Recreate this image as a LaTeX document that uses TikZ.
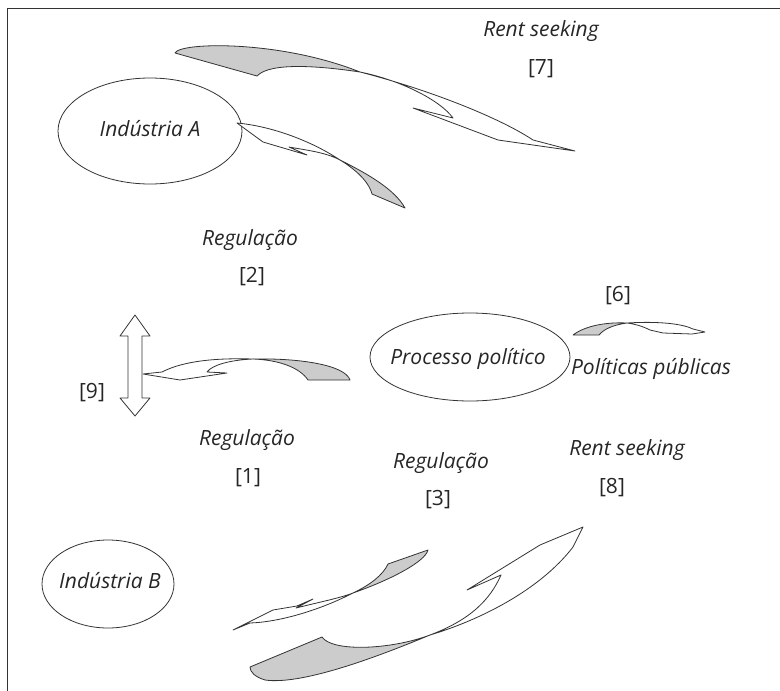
\documentclass[tikz,border=0pt]{standalone}
\usepackage{fontspec}
\setmainfont{Open Sans}
\begin{document}
\begin{tikzpicture}[x=1pt,y=-1pt,
  lbl/.style={font=\fontsize{21}{24}\selectfont\itshape, inner sep=0pt, text=black!85},
  num/.style={font=\fontsize{21}{24}\selectfont, inner sep=0pt, text=black!85},
  outl/.style={draw=black!80, line width=0.8pt},
  ribbon/.style={draw=black!80, line width=0.8pt, line join=round, fill=white},
  under/.style={draw=black!80, line width=0.8pt, line join=round, fill=black!20},
]
\useasboundingbox (0,0) rectangle (780,691);
% frame
\draw[outl] (7,691) -- (7,8) -- (780,8);

% ellipses
\draw[outl] (150,131) ellipse [x radius=92, y radius=53];
\node[lbl] (indA) at (150,129) {Indústria A};
\draw[outl] (470,357) ellipse [x radius=100, y radius=44];
\node[lbl] (proc) at (468,359) {Processo político};
\draw[outl] (108,584) ellipse [x radius=66, y radius=44];
\node[lbl] (indB) at (110,581) {Indústria B};

% labels
\node[lbl] (rs7) at (541,31) {Rent seeking};
\node[num] (n7) at (541,69) {[7]};
\node[lbl] (reg2) at (250,240) {Regulação};
\node[num] (n2) at (252,277) {[2]};
\node[num] (n6) at (618,296) {[6]};
\node[lbl] (pp) at (651,369) {Políticas públicas};
\node[num] (n9) at (92,393) {[9]};
\node[lbl] (reg1) at (247,440) {Regulação};
\node[num] (n1) at (248,478) {[1]};
\node[lbl] (reg3) at (441,463) {Regulação};
\node[num] (n3) at (438,500) {[3]};
\node[lbl] (rs8) at (627,450) {Rent seeking};
\node[num] (n8) at (612,488) {[8]};

% arrow 7
\coordinate (x7) at (360,72);
\draw[under] (175,53) .. controls (180,42) and (280,40) .. (x7)
  .. controls (320,66) and (270,62) .. (257,76) -- cycle;
\draw[ribbon] (x7) .. controls (430,90) and (500,118) .. (533,140) -- (575,151) -- (498,140)
  -- (413,108) -- (453,118) .. controls (440,100) and (400,80) .. (x7);

% arrow 2
\coordinate (x2) at (340,160);
\draw[ribbon] (237,123) .. controls (270,126) and (310,140) .. (x2)
  .. controls (325,152) and (305,150) .. (289,147) -- (307,155) -- (263,142) -- cycle;
\draw[under] (x2) .. controls (370,175) and (395,190) .. (405,208) -- (372,194)
  .. controls (370,185) and (360,172) .. (x2);

% double arrow 9
\draw[ribbon] (135,315) -- (150,336) -- (142,336) -- (142,398) -- (150,398) -- (135,416)
  -- (120,398) -- (128,398) -- (128,336) -- (120,336) -- cycle;

% arrow 1
\coordinate (x1) at (253,359);
\draw[ribbon] (143,374) -- (162,372) .. controls (185,360) and (220,358) .. (x1)
  .. controls (230,360) and (212,365) .. (207,372) -- (227,373) -- (180,380) -- cycle;
\draw[under] (x1) .. controls (300,358) and (345,365) .. (350,380) -- (308,380)
  .. controls (300,368) and (280,360) .. (x1);

% arrow 6
\coordinate (x6) at (627,323);
\draw[under] (573,335) .. controls (585,326) and (605,322) .. (x6)
  .. controls (613,325) and (604,329) .. (599,335) -- cycle;
\draw[ribbon] (x6) .. controls (660,321) and (683,324) .. (693,329) -- (705,332) -- (692,334)
  -- (663,333) -- (650,330) .. controls (642,326) and (635,324) .. (x6);

% arrow 3
\coordinate (x3) at (353,593);
\draw[ribbon] (233,630) -- (273,610) -- (297,606) -- (313,599) -- (296,608)
  .. controls (320,602) and (340,598) .. (x3) .. controls (320,610) and (280,622) .. (250,623) -- cycle;
\draw[under] (x3) .. controls (370,585) and (383,575) .. (388,564) -- (428,550)
  .. controls (425,562) and (390,580) .. (x3);

% arrow 8
\coordinate (x8) at (430,635);
\draw[under] (250,667) -- (322,637) .. controls (332,652) and (390,650) .. (x8)
  .. controls (370,660) and (300,685) .. (265,680) .. controls (255,677) and (250,672) .. cycle;
\draw[ribbon] (x8) .. controls (470,620) and (490,600) .. (501,575) -- (467,590) -- (540,545)
  -- (583,527) -- (573,547) .. controls (540,590) and (480,620) .. (x8);
\end{tikzpicture}
\end{document}
